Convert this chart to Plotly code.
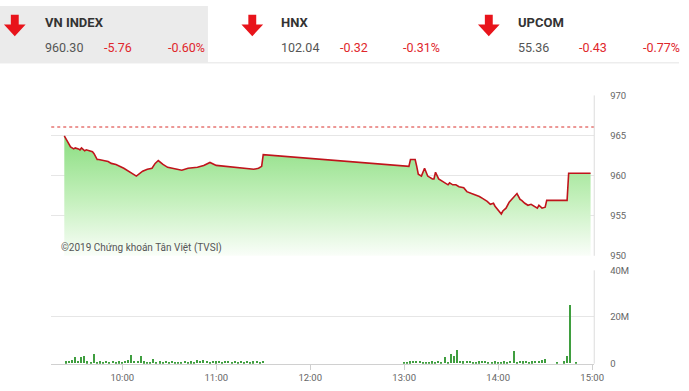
import plotly.graph_objects as go
import pandas as pd

W, H = 689, 391
DAY = "2019-10-01 "

# ---- header data ----
idx_names = ["VN INDEX", "HNX", "UPCOM"]
idx_values = ["960.30", "102.04", "55.36"]
idx_changes = ["-5.76", "-0.32", "-0.43"]
idx_pcts = ["-0.60%", "-0.31%", "-0.77%"]

# ---- price data (VN-Index intraday) ----
price_times = ["09:23", "09:25", "09:26", "09:27", "09:29", "09:30", "09:32", "09:33", "09:34", "09:36",
               "09:37", "09:39", "09:41", "09:42", "09:44", "09:45", "09:48", "09:51", "09:53", "09:56",
               "10:01", "10:06", "10:09", "10:13", "10:16", "10:19", "10:21", "10:23", "10:26", "10:29",
               "10:33", "10:35", "10:38", "10:42", "10:48", "10:52", "10:56", "11:00", "11:07", "11:13",
               "11:19", "11:24", "11:27", "11:29", "11:30",
               "13:02", "13:03", "13:04", "13:07", "13:08", "13:09", "13:11", "13:13", "13:15", "13:18",
               "13:19", "13:20", "13:22", "13:24", "13:26", "13:28", "13:29", "13:31", "13:33", "13:35",
               "13:38", "13:40", "13:43", "13:45", "13:48", "13:50", "13:53", "13:55", "13:57", "13:58",
               "14:00", "14:02", "14:03", "14:05", "14:07", "14:10", "14:12", "14:14", "14:15", "14:17",
               "14:19", "14:21", "14:23", "14:25", "14:26", "14:28", "14:30", "14:31", "14:44", "14:45",
               "14:59"]
price_values = [964.95, 964.30, 963.82, 963.58, 963.33, 963.45, 963.33, 963.21, 963.45, 963.09,
                963.21, 963.09, 962.97, 962.73, 962.00, 962.00, 961.88, 961.76, 961.52, 961.39,
                960.91, 960.30, 959.94, 960.55, 960.79, 960.91, 961.52, 961.88, 961.39, 961.03,
                960.91, 960.79, 960.67, 960.91, 961.03, 961.27, 961.64, 961.27, 961.15, 961.03,
                960.91, 960.79, 960.91, 961.15, 962.61,
                961.15, 961.15, 962.00, 962.00, 961.15, 960.18, 959.94, 960.91, 959.94, 959.58,
                959.58, 960.42, 959.58, 959.33, 959.09, 958.85, 959.09, 958.85, 958.85, 958.61,
                958.48, 958.00, 957.76, 957.64, 957.39, 957.15, 956.79, 956.42, 956.55, 956.18,
                955.70, 955.21, 955.58, 955.94, 956.67, 957.39, 957.76, 957.03, 956.91, 956.55,
                956.30, 956.42, 956.18, 955.94, 956.30, 955.94, 956.06, 956.91, 956.91, 960.30,
                960.30]
ref_value = 966.06

# ---- volume data (million shares, every 2 minutes) ----
vol_am_start = "09:24"
vol_am = [0.8, 1.2, 1.5, 2.5, 1.0, 2.8, 3.0, 0.8, 0.6, 4.0,
          0.5, 0.8, 0.6, 1.2, 0.7, 0.9, 0.5, 0.8, 0.4, 1.0,
          1.6, 3.7, 1.2, 0.9, 3.3, 0.8, 0.6, 0.5, 2.0, 0.6,
          0.8, 0.5, 0.9, 0.6, 1.0, 0.5, 0.7, 0.5, 1.2, 0.6,
          0.8, 0.5, 1.3, 1.0, 1.5, 1.0, 0.6, 1.0, 0.8, 1.2,
          0.6, 0.9, 1.1, 0.5, 1.0, 0.7, 1.0, 0.6, 1.2, 0.5,
          0.8, 1.0, 0.6, 1.1]
vol_pm_start = "13:00"
vol_pm = [0.3, 0.5, 0.8, 1.0, 0.9, 1.1, 0.7, 0.5, 0.6, 0.8,
          0.6, 0.9, 0.7, 2.9, 0.6, 3.8, 3.0, 5.8, 1.0, 0.8,
          1.2, 0.9, 0.7, 0.6, 0.8, 0.9, 1.0, 0.7, 0.6, 0.8,
          0.5, 0.6, 0.8, 0.7, 0.9, 5.4, 0.6, 1.0, 0.8, 0.9,
          0.7, 0.8, 0.9, 1.1, 1.3, 2.0, 0, 0, 0, 0.6,
          0, 0.8, 3.3, 25.0, 0, 0.5]

price_yticks = [950, 955, 960, 965, 970]
vol_yticks = [0, 20e6, 40e6]
vol_yticktext = ["0", "20M", "40M"]

FONT = "Roboto, sans-serif"
GRID = "#e6e6e6"
LBL = "#666666"

px_t = pd.to_datetime([DAY + t for t in price_times])
vt_am = pd.date_range(DAY + vol_am_start, periods=len(vol_am), freq="2min")
vt_pm = pd.date_range(DAY + vol_pm_start, periods=len(vol_pm), freq="2min")
vol_t = list(vt_am) + list(vt_pm)
vol_v = [v * 1e6 for v in vol_am + vol_pm]

def fx(px):
    return px / W

def fy(py):
    return 1 - py / H

X0, X1 = 52, 603
PY0, PY1 = 92, 257
VY0, VY1 = 272, 368

fig = go.Figure()

fig.add_trace(go.Scatter(
    x=px_t, y=price_values, mode="lines",
    line=dict(color="#c0141c", width=1.6),
    fill="tozeroy",
    fillgradient=dict(type="vertical", start=950, stop=965,
                      colorscale=[[0, "rgba(255,255,255,1)"], [0.5, "rgb(196,240,188)"],
                                  [1, "rgb(140,222,130)"]]),
    xaxis="x", yaxis="y", hoverinfo="skip", showlegend=False))

fig.add_trace(go.Bar(
    x=vol_t, y=vol_v, marker=dict(color="#3f9e3f", line=dict(width=0)),
    width=45000, xaxis="x2", yaxis="y2", hoverinfo="skip", showlegend=False))

trange = [DAY + "09:14:40", DAY + "15:01:20"]

fig.update_layout(
    width=W, height=H, margin=dict(l=0, r=0, t=0, b=0),
    paper_bgcolor="white", plot_bgcolor="rgba(0,0,0,0)",
    font=dict(family=FONT, color=LBL, size=10),
    bargap=0,
    xaxis=dict(domain=[fx(X0), fx(X1)], anchor="y", range=trange, type="date",
               showticklabels=False, showgrid=False, zeroline=False, showline=False, ticks=""),
    yaxis=dict(domain=[fy(PY1), fy(PY0)], anchor="x", side="right", range=[950, 970],
               tickvals=price_yticks, showgrid=True, gridcolor=GRID, gridwidth=1,
               zeroline=False, showline=False, ticks="outside", ticklen=13,
               tickcolor="rgba(0,0,0,0)", tickfont=dict(size=9.5, color=LBL)),
    xaxis2=dict(domain=[fx(X0), fx(X1)], anchor="y2", range=trange, type="date",
                tickformat="%H:%M", tick0=DAY + "10:00", dtick=3600000,
                showgrid=False, zeroline=False, showline=True, linecolor="#d0d0d0",
                ticks="outside", ticklen=5, tickcolor="#cfcfcf",
                tickfont=dict(size=9.5, color=LBL)),
    yaxis2=dict(domain=[fy(VY1), fy(VY0)], anchor="x2", side="right", range=[0, 40e6],
                tickvals=vol_yticks, ticktext=vol_yticktext, showgrid=True, gridcolor=GRID,
                zeroline=False, showline=False, ticks="outside", ticklen=13,
                tickcolor="rgba(0,0,0,0)", tickfont=dict(size=9.5, color=LBL)),
)

shapes = []
# header background panel for VN INDEX
shapes.append(dict(type="rect", xref="paper", yref="paper", x0=0, x1=fx(211), y0=fy(58), y1=1,
                   fillcolor="#ebebeb", line=dict(width=0), layer="below"))
shapes.append(dict(type="line", xref="paper", yref="paper", x0=0, x1=1, y0=fy(58.5), y1=fy(58.5),
                   line=dict(color="#e4e4e4", width=1)))
# reference (previous close) dotted line
shapes.append(dict(type="line", xref="x domain", yref="y", x0=0, x1=1, y0=ref_value, y1=ref_value,
                   line=dict(color="#d9302c", width=1, dash="dot")))
# right frame borders
shapes.append(dict(type="line", xref="paper", yref="paper", x0=fx(X1), x1=fx(X1), y0=fy(PY1), y1=fy(PY0),
                   line=dict(color="#dcdcdc", width=1)))
shapes.append(dict(type="line", xref="paper", yref="paper", x0=fx(X1), x1=fx(X1), y0=fy(VY1), y1=fy(VY0),
                   line=dict(color="#dcdcdc", width=1)))

# red down arrows in header
def arrow(cx, top):
    pts = [(cx - 4, top), (cx + 4, top), (cx + 4, top + 10), (cx + 11, top + 10),
           (cx, top + 22), (cx - 11, top + 10), (cx - 4, top + 10)]
    path = "M " + " L ".join(f"{fx(x):.5f},{fy(y):.5f}" for x, y in pts) + " Z"
    return dict(type="path", xref="paper", yref="paper", path=path,
                fillcolor="#e8141b", line=dict(width=0))

arrow_x = [15, 256, 496]
for ax in arrow_x:
    shapes.append(arrow(ax, 9))
fig.update_layout(shapes=shapes)

ann = []
name_x = [44, 283, 524]
chg_x = [104, 343, 585]
pct_x = [168, 407, 650]
for i in range(3):
    ann.append(dict(x=fx(name_x[i]), y=fy(17), xref="paper", yref="paper", xanchor="left", yanchor="middle",
                    text="<b>" + idx_names[i] + "</b>", showarrow=False,
                    font=dict(family=FONT, size=13, color="#333333")))
    ann.append(dict(x=fx(name_x[i]), y=fy(43), xref="paper", yref="paper", xanchor="left", yanchor="middle",
                    text=idx_values[i], showarrow=False, font=dict(family=FONT, size=12.5, color="#555555")))
    ann.append(dict(x=fx(chg_x[i]), y=fy(43), xref="paper", yref="paper", xanchor="left", yanchor="middle",
                    text=idx_changes[i], showarrow=False, font=dict(family=FONT, size=12.5, color="#e0262b")))
    ann.append(dict(x=fx(pct_x[i]), y=fy(43), xref="paper", yref="paper", xanchor="left", yanchor="middle",
                    text=idx_pcts[i], showarrow=False, font=dict(family=FONT, size=12.5, color="#e0262b")))
ann.append(dict(x=fx(60), y=fy(249), xref="paper", yref="paper", xanchor="left", yanchor="middle",
                text="©2019 Chứng khoán Tân Việt (TVSI)", showarrow=False,
                font=dict(family=FONT, size=10, color="#555555")))
fig.update_layout(annotations=ann)

fig.write_html("out.html")
